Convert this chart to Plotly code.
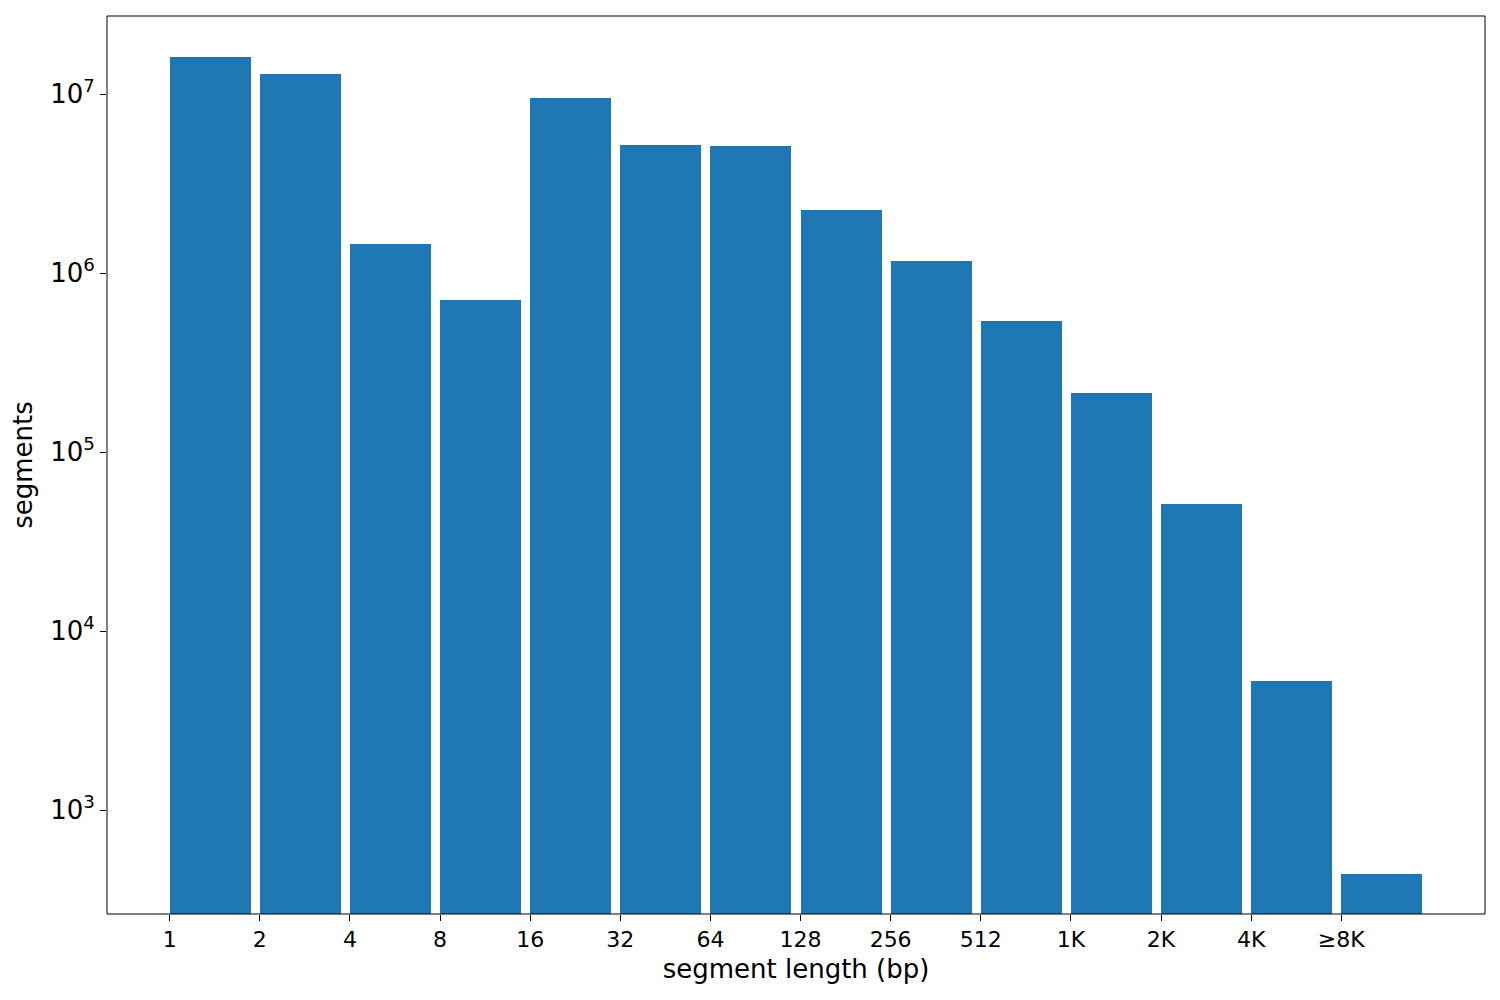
import numpy as np
import plotly.graph_objects as go

# segment length bins (log2) and counts
bin_labels = ["1", "2", "4", "8", "16", "32", "64", "128", "256", "512", "1K", "2K", "4K", "≥8K"]
segments = [1.61e7, 1.29e7, 1.45e6, 7.06e5, 9.5e6, 5.19e6, 5.12e6, 2.25e6,
            1.17e6, 5.4e5, 2.14e5, 5.1e4, 5.27e3, 440]
ytick_vals = [1e3, 1e4, 1e5, 1e6, 1e7]
ytick_text = ["10<sup>3</sup>", "10<sup>4</sup>", "10<sup>5</sup>", "10<sup>6</sup>", "10<sup>7</sup>"]

x = list(range(len(bin_labels)))

fig = go.Figure(go.Bar(x=x, y=segments, width=0.9, offset=0,
                       marker=dict(color="#1f77b4", line=dict(width=0))))

fig.update_layout(
    width=1500, height=1000,
    margin=dict(l=99, r=23, t=8, b=94),
    plot_bgcolor="white", paper_bgcolor="white",
    font=dict(family="DejaVu Sans", size=22, color="black"),
    showlegend=False,
    bargap=0,
)
# axes box
fig.add_shape(type="rect", xref="paper", yref="paper", x0=0, y0=0, x1=1, y1=1,
              line=dict(color="black", width=1))
fig.update_xaxes(
    range=[-0.695, 14.595], tickvals=x, ticktext=bin_labels,
    showgrid=False, zeroline=False, showline=False,
    ticks="outside", ticklen=6, tickcolor="black",
    title=dict(text="segment length (bp)", standoff=8),
)
fig.update_yaxes(
    type="log", range=[2.419, 7.436], tickvals=ytick_vals, ticktext=ytick_text,
    tickfont=dict(size=26),
    showgrid=False, zeroline=False, showline=False,
    ticks="outside", ticklen=6, tickcolor="black",
    title=dict(text="segments", standoff=10),
)

fig.write_html("out.html")
